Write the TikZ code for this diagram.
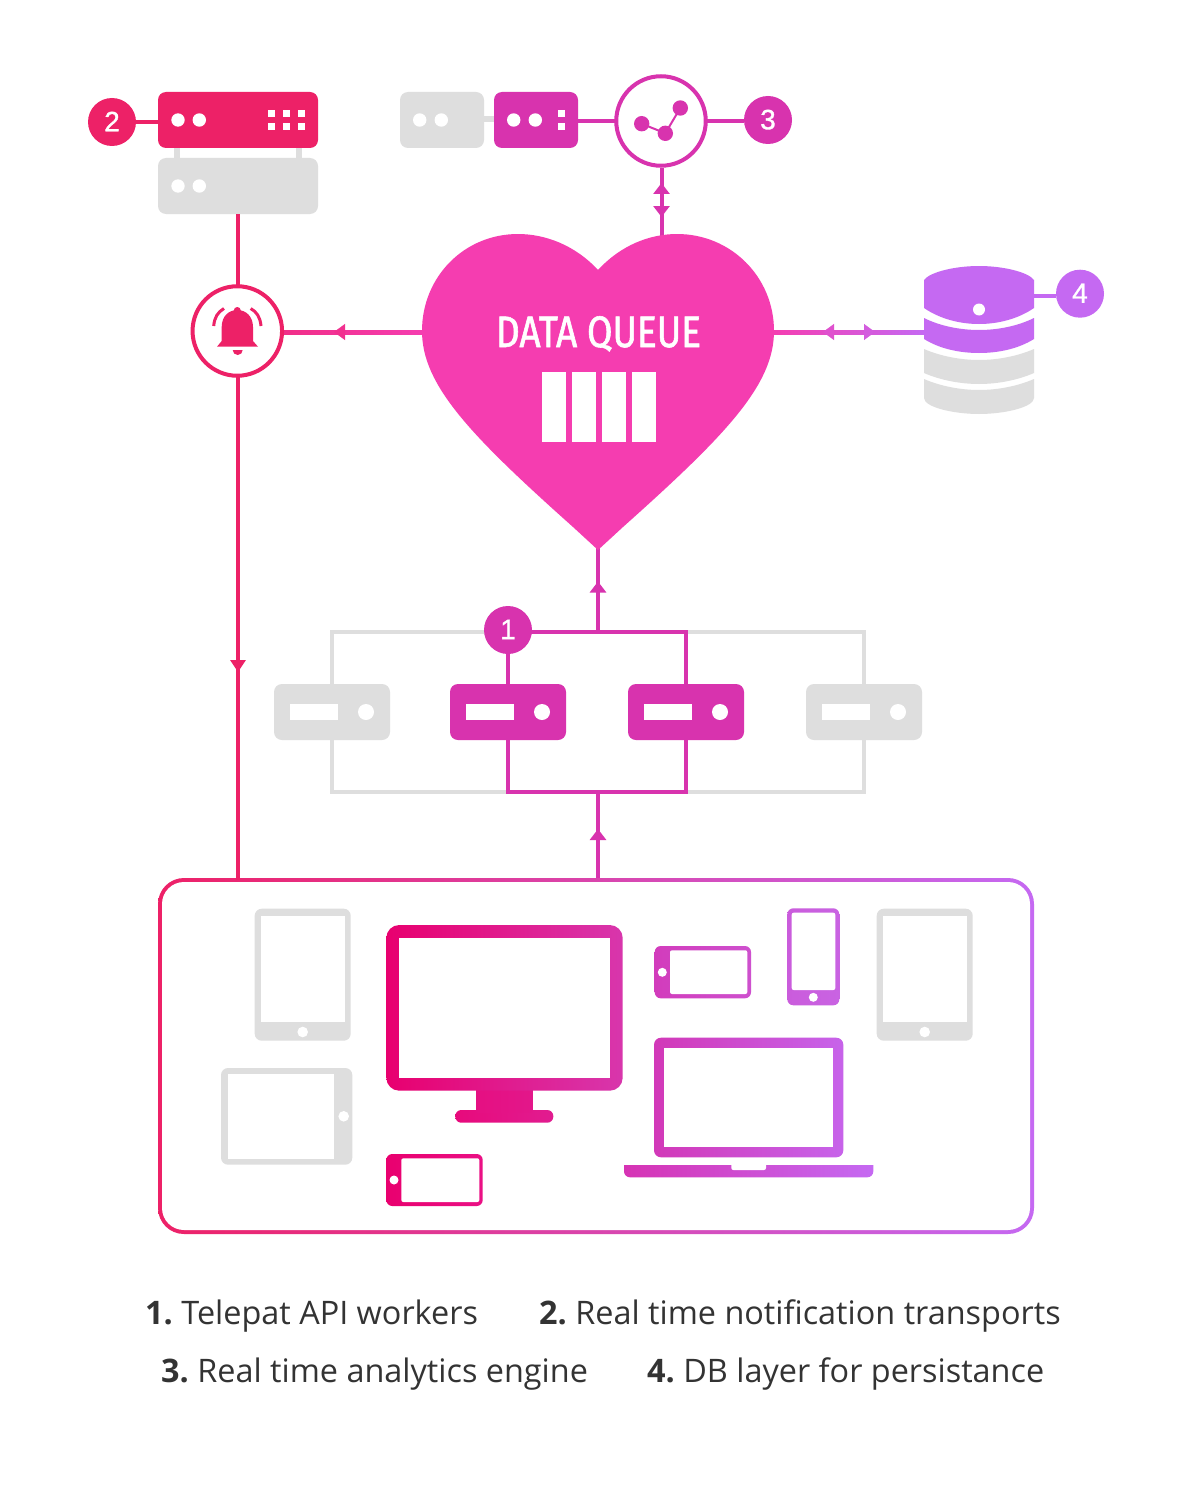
\documentclass[tikz,border=0pt]{standalone}
\usepackage{fontspec}
\setmainfont{Open Sans}
\newfontfamily\badgefont[FakeBold=1.1]{Liberation Sans}
\newfontfamily\dqfont[FakeStretch=0.84,FakeBold=1.3]{Fira Sans}
\usetikzlibrary{arrows.meta,decorations.markings,calc}
\definecolor{cred}{HTML}{ED2167}
\definecolor{cmag}{HTML}{D833AE}
\definecolor{cpur}{HTML}{C569F2}
\definecolor{cpink}{HTML}{F53DB0}
\definecolor{cgray}{HTML}{DEDEDE}
\definecolor{ctext}{HTML}{333333}
\definecolor{gmonl}{HTML}{E8006F}
\definecolor{gmonr}{HTML}{D836AC}
\definecolor{gstl}{HTML}{E70A7C}
\definecolor{gstr}{HTML}{E11C90}
\definecolor{gphl}{HTML}{E9006F}
\definecolor{gphr}{HTML}{EA1085}
\definecolor{glal}{HTML}{D23CBC}
\definecolor{glar}{HTML}{CE50CE}
\definecolor{gpol}{HTML}{CA5CDC}
\definecolor{gpor}{HTML}{C963E2}
\definecolor{glpl}{HTML}{D238B8}
\definecolor{glpr}{HTML}{C763EA}
\definecolor{glbl}{HTML}{D633B4}
\definecolor{glbr}{HTML}{C569F2}
\tikzset{
  srv/.style={rectangle,rounded corners=8pt,inner sep=0pt,outer sep=0pt,minimum height=56pt,fill=#1},
  badge/.style={circle,inner sep=0pt,outer sep=0pt,minimum size=48pt,fill=#1,text=white,font=\badgefont\fontsize{28}{28}\selectfont},
  ring/.style={circle,inner sep=0pt,outer sep=0pt,minimum size=89.5pt,fill=white,draw=#1,line width=4pt},
  wire/.style={line width=4pt,draw=#1},
  capt/.style={anchor=base west,inner sep=0pt,text=ctext,font=\fontsize{32.4}{32.4}\selectfont},
  tips/.style={postaction={decorate,decoration={markings,#1}}}
}
\newcommand{\mytip}{Triangle[length=11pt,width=16pt]}
\newcommand{\capnum}[1]{\textbf{#1}\ }
\newcommand{\digit}[1]{\raisebox{1pt}{#1}}
\begin{document}
\begin{tikzpicture}[x=1pt,y=-1pt]
\useasboundingbox (0,0) rectangle (1200,1490);
\fill[white] (0,0) rectangle (1200,1490);

% named anchors of the heart
\coordinate (heartW) at (424,332);
\coordinate (heartE) at (772,332);
\coordinate (heartS) at (598,548);
\coordinate (heartN) at (661.5,238);

% clients box
\node[rectangle,rounded corners=26pt,inner sep=0pt,outer sep=0pt,minimum width=876pt,minimum height=356pt,left color=cred,right color=cpur] (box) at (596,1056) {};
\node[rectangle,rounded corners=22pt,fill=white,inner sep=0pt,outer sep=0pt,minimum width=868pt,minimum height=348pt] (boxin) at (596,1056) {};

% workers
\coordinate (ftop) at (598,632);
\coordinate (fbot) at (598,792);
\coordinate (w1) at (332,712);
\coordinate (w2) at (508,712);
\coordinate (w3) at (686,712);
\coordinate (w4) at (864,712);
\draw[wire=cgray,line cap=rect] (w1) |- (ftop) -| (w4);
\draw[wire=cgray,line cap=rect] (w1) |- (fbot) -| (w4);
\draw[wire=cmag] (w2) |- (ftop) -| (w3);
\draw[wire=cmag] (w2) |- (fbot) -| (w3);
\node[srv=cgray,minimum width=116pt] (n1) at (w1) {};
\node[srv=cmag,minimum width=116pt] (n2) at (w2) {};
\node[srv=cmag,minimum width=116pt] (n3) at (w3) {};
\node[srv=cgray,minimum width=116pt] (n4) at (w4) {};
\foreach \bx/\dx in {290/366,466/542,644/720,822/898}{
  \fill[white] (\bx,704) rectangle ++(48,16);
  \fill[white] (\dx,712) circle (8pt);
}

% connectors: box to workers, workers to heart
\draw[wire=cmag,tips={mark=at position 49pt with {\arrow[cmag]{\mytip}}}] (fbot |- box.north) -- (fbot);
\draw[wire=cmag,tips={mark=at position 50.5pt with {\arrow[cmag]{\mytip}}}] (ftop) -- (heartS);

% top-left servers
\fill[cgray] (174,146) rectangle (180,160);
\fill[cgray] (296,146) rectangle (302,160);
\node[srv=cred,minimum width=160pt] (s2) at (238,120) {};
\node[srv=cgray,minimum width=160pt] (s2b) at (238,186) {};
\foreach \dx in {178,199.3}{ \fill[white] (\dx,120) circle (6.7pt); \fill[white] (\dx,186) circle (6.7pt); }
\foreach \sx in {268.3,283.3,298.3}{ \foreach \sy in {110,123.3}{ \fill[white] (\sx,\sy) rectangle ++(6.8,6.8); } }
\node[badge=cred] (b2) at (112,122) {\digit{2}};
\draw[wire=cred] (b2.east) -- (b2.east -| s2.west);

% bell
\draw[wire=cred] (s2b.south) -- (s2b.south |- 0,300);
\draw[wire=cred,tips={mark=at position 296pt with {\arrow[cred]{Triangle[length=12pt,width=15pt]}}}] (238,376) -- (238,880);
\coordinate (bellE) at (282,332);
\draw[wire=cred] (heartW) -- (bellE);
\shade[left color=cpink!45!cred,right color=cpink] (284,330) rectangle (424,334);
\path[tips={mark=at position 90pt with {\arrow[cpink!55!cred]{\mytip}}}] (heartW) -- (bellE);
\node[ring=cred] (bell) at (237.3,331) {};
\fill[cred] (217,346.7) -- (221.7,341) -- (221.7,327) .. controls (221.7,316) and (229,310) .. (237.3,310) .. controls (245.6,310) and (253,316) .. (253,327) -- (253,341) -- (258,346.7) -- cycle;
\fill[cred] (237.3,310.5) circle (3.5pt);
\fill[cred] (232.7,350) arc[start angle=180,end angle=360,radius=5pt] -- cycle;
\draw[cred,line width=3pt] (213.7,326) .. controls (214.5,317) and (218,312) .. (224,308.5);
\draw[cred,line width=3pt] (261,326) .. controls (260.2,317) and (256.7,312) .. (250.7,308.5);

% top-middle servers
\fill[cgray] (482,116) rectangle (496,122);
\node[srv=cgray,minimum width=84pt] (s3a) at (442,120) {};
\node[srv=cmag,minimum width=84pt] (s3b) at (536,120) {};
\foreach \dx in {419.7,441.3,513.7,535.3}{ \fill[white] (\dx,120) circle (6.7pt); }
\foreach \sy in {110,123.3}{ \fill[white] (558,\sy) rectangle ++(7,6.8); }

% analytics
\node[ring=cmag] (an) at (661,121) {};
\node[badge=cmag] (b3) at (768,120) {\digit{3}};
\draw[wire=cmag] (s3b.east |- an.west) -- (an.west);
\draw[wire=cmag] (an.east) -- (an.east -| b3.west);
\coordinate (an1) at (641.7,123.7);
\coordinate (an2) at (665.3,133.3);
\coordinate (an3) at (680.3,108);
\draw[cmag,line width=2pt] (an1) -- (an2) -- (an3);
\fill[cmag] (an1) circle (7.7pt) (an2) circle (7.7pt) (an3) circle (7.7pt);
\draw[wire=cmag,tips={mark=at position 15pt with {\arrowreversed[cmag]{\mytip}},mark=at position 49pt with {\arrow[cmag]{\mytip}}}] (heartN |- 0,168) -- (heartN);

% heart to DB
\coordinate (dbW) at (926,332);
\draw[wire=cpur] (heartE) -- (dbW);
\shade[left color=cpink,right color=cpur] (772,330) rectangle (924,334);
\path[tips={mark=at position 51pt with {\arrowreversed[cpink!55!cpur]{\mytip}},mark=at position 103pt with {\arrow[cpink!30!cpur]{\mytip}}}] (heartE) -- (dbW);

% heart
\fill[cpink] (598,270) .. controls (575,245) and (545,234) .. (518,234)
  .. controls (464,234) and (422,277) .. (422,331)
  .. controls (422,385) and (470,435) .. (573,527)
  -- (598,550) -- (623,527)
  .. controls (726,435) and (774,385) .. (774,331)
  .. controls (774,277) and (731,234) .. (677,234)
  .. controls (650,234) and (621,245) .. (598,270) -- cycle;
\node[text=white,inner sep=0pt,anchor=base,font=\dqfont\fontsize{44}{44}\selectfont] (dq) at (598.5,347) {DATA QUEUE};
\foreach \qx in {542,572,602,632}{ \fill[white] (\qx,372) rectangle ++(24,70); }

% database
\node[inner sep=0pt,outer sep=0pt,minimum width=110pt,minimum height=148pt] (db) at (979,340) {};
\fill[cgray] (924,379) .. controls (940,386) and (960,390) .. (979,390) .. controls (998,390) and (1018,386) .. (1034,379) -- (1034,398) .. controls (1034,407) and (1005,414) .. (979,414) .. controls (953,414) and (924,407) .. (924,398) -- cycle;
\fill[cgray] (924,349) .. controls (940,356) and (960,360) .. (979,360) .. controls (998,360) and (1018,356) .. (1034,349) -- (1034,373) .. controls (1018,380) and (998,384) .. (979,384) .. controls (960,384) and (940,380) .. (924,373) -- cycle;
\fill[cpur] (924,318) .. controls (940,326) and (960,330) .. (979,330) .. controls (998,330) and (1018,326) .. (1034,318) -- (1034,339) .. controls (1018,349) and (998,353) .. (979,353) .. controls (960,353) and (940,349) .. (924,339) -- cycle;
\fill[cpur] (924,280) .. controls (930,272) and (955,266) .. (979,266) .. controls (1003,266) and (1028,272) .. (1034,280) -- (1034,308) .. controls (1018,319) and (998,324) .. (979,324) .. controls (960,324) and (940,319) .. (924,308) -- cycle;
\fill[white] (979,309.5) circle (6pt);
\node[badge=cpur] (b4) at (1080,293.7) {\digit{4}};
\draw[wire=cpur] (db.east |- 0,295.7) -- (b4.west |- 0,295.7);

% badge 1
\node[badge=cmag] (b1) at (508,630) {\digit{1}};

% devices: gray tablets
\foreach \ox in {254.7,876.7}{
  \fill[cgray,rounded corners=7pt] (\ox,908.7) rectangle ++(96,132);
  \fill[white] (\ox+5.8,916.3) rectangle ++(84.5,105.7);
  \fill[white] (\ox+48,1032) circle (5.3pt);
}
\fill[cgray,rounded corners=7pt] (221,1068) rectangle (352.3,1164.7);
\fill[white] (228.3,1074) rectangle (334,1158.7);
\fill[white] (343.7,1116.3) circle (5.3pt);

% monitor
\shade[left color=gstl,right color=gstr,rounded corners=6pt] (455.3,1110) rectangle (553.3,1122.7);
\shade[left color=gstl!70!gstr,right color=gstr!70!gstl] (476.3,1085) rectangle (532.3,1112);
\shade[left color=gmonl,right color=gmonr,rounded corners=13pt] (386.3,925) rectangle (622.7,1090.7);
\fill[white] (399.3,937.7) rectangle (610,1078);

% small phone
\shade[left color=gphl,right color=gphr,rounded corners=6pt] (386.3,1154) rectangle (482.7,1206);
\fill[white,rounded corners=2pt] (401.3,1158.3) rectangle (479.3,1202);
\fill[white] (394,1180) circle (4.5pt);

% purple landscape phone
\shade[left color=glal,right color=glar,rounded corners=6pt] (654.7,946) rectangle (751,998.3);
\fill[white,rounded corners=2pt] (670,950.3) rectangle (747.3,994);
\fill[white] (662.3,972.3) circle (4.5pt);

% purple portrait phone
\shade[left color=gpol,right color=gpor,rounded corners=6pt] (787.3,908.3) rectangle (839.3,1005.3);
\fill[white,rounded corners=2pt] (791.7,912.7) rectangle (835.3,990);
\fill[white] (813.3,997.3) circle (4.5pt);

% laptop
\shade[left color=glpl,right color=glpr,rounded corners=7pt] (654,1037.7) rectangle (843.3,1157.3);
\fill[white] (664,1047.7) rectangle (833.3,1147.3);
\shade[left color=glbl,right color=glbr] (624,1165) -- (873.3,1165) -- (873.3,1171.3) arc[start angle=0,end angle=-90,radius=6pt] -- (630,1177.3) arc[start angle=-90,end angle=-180,radius=6pt] -- cycle;
\fill[white,rounded corners=2pt] (731.3,1160) rectangle (766,1170);

% captions
\node[capt] (c1) at (145,1324) {\capnum{1.}Telepat API workers};
\node[capt] (c2) at (539,1324) {\capnum{2.}Real time notification transports};
\node[capt] (c3) at (161,1382) {\capnum{3.}Real time analytics engine};
\node[capt] (c4) at (647,1382) {\capnum{4.}DB layer for persistance};
\end{tikzpicture}
\end{document}
